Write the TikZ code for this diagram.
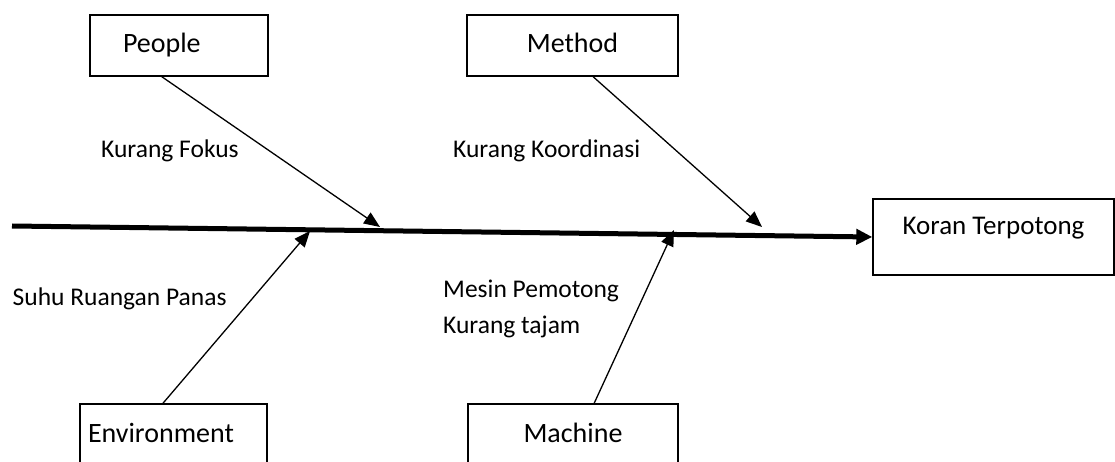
\documentclass[tikz,border=0pt]{standalone}
\usepackage{fontspec}
\setmainfont{Carlito}
\usetikzlibrary{arrows.meta, calc}
\tikzset{
  cause/.style={
    draw, line width=1.4pt, inner ysep=0pt, inner xsep=0pt,
    minimum height=61pt, text height=18pt, text depth=3pt,
    font=\fontsize{28}{30}\selectfont
  },
  effect/.style={
    draw, line width=1.4pt, inner sep=0pt,
    minimum width=241pt, minimum height=76pt, text height=17pt, text depth=21pt,
    font=\fontsize{27}{30}\selectfont
  },
  note/.style={anchor=base west, align=left, inner sep=0pt,
    font=\fontsize{25.5}{36}\selectfont},
  bone/.style={-{Triangle[length=16pt,width=13pt]}, line width=1.3pt},
  spine/.style={-{Triangle[length=16pt,width=15pt]}, line width=5pt}
}

\begin{document}
\begin{tikzpicture}[x=1pt,y=-1pt]
  \useasboundingbox (0,0) rectangle (1115,462);

  % effect and spine
  \node[effect] (koran) at (993.5,237) {Koran Terpotong};
  \coordinate (tail) at (12,226);
  \draw[spine] (tail) -- (koran.west);

  % causes
  \node[cause, inner xsep=33pt, text width=112pt, align=left] (people) at (179,45.5) {People};
  \node[cause, minimum width=211pt] (method) at (572.5,45.5) {Method};
  \node[cause, inner xsep=8pt, text width=171pt, align=left] (env) at (173.5,434.5) {Environment};
  \node[cause, minimum width=210pt] (machine) at (573,434.5) {Machine};

  % points on the spine
  \coordinate (p1) at (380,227);
  \coordinate (p2) at (762,227);
  \coordinate (p3) at (310,231);
  \coordinate (p4) at (674,230);

  \draw[bone] ($(people.south west)!0.404!(people.south east)$) -- (p1);
  \draw[bone] ($(method.south west)!0.597!(method.south east)$) -- (p2);
  \draw[bone] ($(env.north west)!0.444!(env.north east)$) -- (p3);
  \draw[bone] ($(machine.north west)!0.6!(machine.north east)$) -- (p4);

  % sub causes
  \node[note] (fokus) at (101,157.7) {Kurang Fokus};
  \node[note] (koord) at (453,158) {Kurang Koordinasi};
  \node[note] (suhu) at (12.5,305) {Suhu Ruangan Panas};
  \node[note] (mesin) at (443,333) {Mesin Pemotong\\Kurang tajam};
\end{tikzpicture}
\end{document}
